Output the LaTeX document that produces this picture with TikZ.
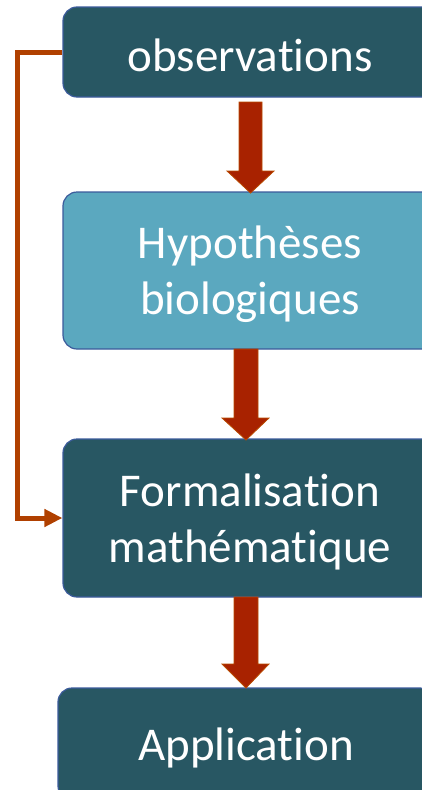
\documentclass[tikz,border=0pt]{standalone}
\usepackage{fontspec}
\setmainfont{Carlito}[RawFeature={-liga;-calt;-clig;-dlig}]
\usetikzlibrary{calc,arrows.meta}
\definecolor{darkteal}{HTML}{285763}
\definecolor{lightteal}{HTML}{5BA8BF}
\definecolor{boxborder}{HTML}{3B5B9B}
\definecolor{arrowfill}{HTML}{A82200}
\definecolor{arrowline}{HTML}{B84A00}
\definecolor{loopline}{HTML}{B04000}
\newcommand{\nolig}{\kern0pt\relax}
\begin{document}
\begin{tikzpicture}[x=1pt,y=-1pt,
  box/.style={draw=boxborder, line width=1.2pt, rounded corners=14pt, inner sep=0pt},
  boxtext/.style={text=white, font=\fontsize{47}{56}\selectfont, align=center, inner sep=0pt, yshift=-4pt},
  blockarrow/.style={fill=arrowfill, draw=arrowline, line width=0.8pt, line join=miter},
  feedback/.style={draw=loopline, line width=5pt, -{Triangle[length=18pt,width=17pt]}}]
\useasboundingbox (0,0) rectangle (422,790);
\clip (0,0) rectangle (422,790);
\node[box, fill=darkteal, minimum width=374pt, minimum height=90pt] (obs) at (250,52) {};
\node[box, fill=lightteal, minimum width=374pt, minimum height=157pt] (hyp) at (250,270.5) {};
\node[box, fill=darkteal, minimum width=374pt, minimum height=158pt] (form) at (250,518) {};
\node[box, fill=darkteal, minimum width=376pt, minimum height=112pt] (app) at (246,744) {};
\node[boxtext, yshift=1pt] (obstext) at (obs.center) {observat\nolig ions};
\node[boxtext] (hyptext) at (hyp.center) {Hypothèses\\biologiques};
\node[boxtext] (formtext) at (form.center) {Formalisat\nolig ion\\mathématique};
\node[boxtext] (apptext) at (app.center) {Applicat\nolig ion};
\draw[blockarrow] (239,102) -- (262,102) -- (262,171) -- (274,171) -- (250.5,193) -- (227,171) -- (239,171) -- cycle;
\draw[blockarrow] (234,349) -- (258,349) -- (258,418) -- (269,418) -- (246,440) -- (222,418) -- (234,418) -- cycle;
\draw[blockarrow] (234,597) -- (258,597) -- (258,664) -- (269,664) -- (246,688) -- (222,664) -- (234,664) -- cycle;
\draw[feedback] (obs.west) -- ++(-45,0) |- (form.west);
\end{tikzpicture}
\end{document}
